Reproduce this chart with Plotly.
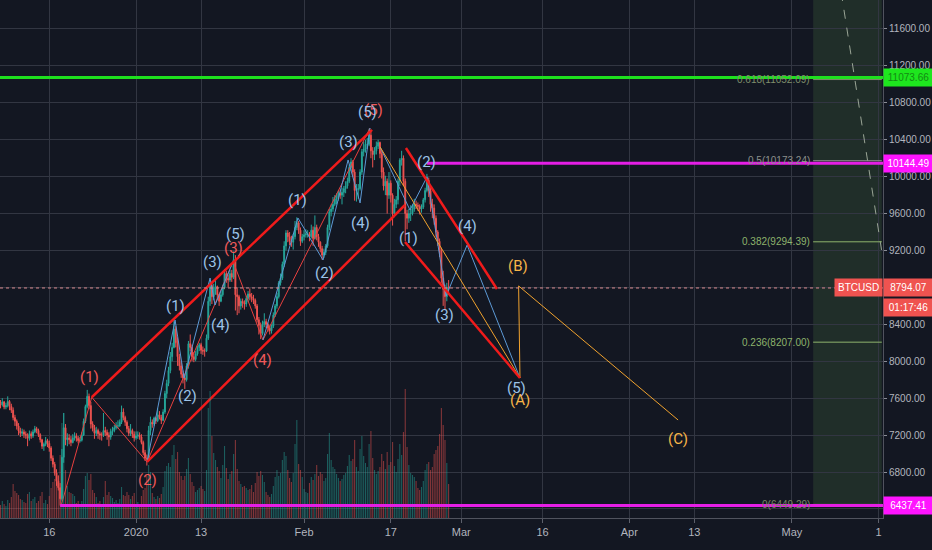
import plotly.graph_objects as go
from datetime import datetime, timedelta

# ---------------- data (8h candles, BTCUSD) ----------------
first_open = 7540
closes = [
    7530, 7560, 7505, 7520, 7565, 7510, 7470, 7390, 7350, 7300, 7245, 7220,   # Dec 7-10
    7235, 7210, 7200, 7165, 7215, 7190, 7235, 7270, 7250, 7205, 7150, 7080,   # Dec 11-14
    7100, 7140, 7110, 7060, 6950, 6885, 6790, 6700, 6630, 6510, 6960, 7280,   # Dec 15-18
    7150, 7170, 7150, 7120, 7170, 7190, 7165, 7140, 7145, 7200, 7350, 7510,   # Dec 19-22
    7620, 7520, 7320, 7280, 7220, 7250, 7215, 7200, 7200, 7250, 7230, 7200,   # Dec 23-26
    7180, 7240, 7250, 7280, 7300, 7300, 7340, 7450, 7390, 7340, 7270, 7220,   # Dec 27-30
    7250, 7210, 7170, 7190, 7200, 7180, 7120, 7010, 6950, 6940, 7250, 7340,   # Dec 31-Jan 3
    7320, 7385, 7355, 7420, 7390, 7360, 7450, 7650, 7760, 7900, 8050, 8150,   # Jan 4-7
    8350, 8200, 8050, 7950, 7860, 7820, 7800, 7950, 8190, 8150, 8050, 8020,   # Jan 8-11
    8080, 8150, 8180, 8120, 8110, 8110, 8250, 8650, 8820, 8700, 8800, 8810,   # Jan 12-15
    8720, 8650, 8720, 8800, 8950, 8900, 8880, 8950, 8910, 9100, 8720, 8700,   # Jan 16-19
    8600, 8650, 8630, 8620, 8680, 8730, 8700, 8680, 8660, 8600, 8450, 8390,   # Jan 20-23
    8300, 8400, 8430, 8400, 8360, 8330, 8380, 8500, 8600, 8700, 8850, 8900,   # Jan 24-27
    9050, 9250, 9390, 9350, 9300, 9290, 9350, 9450, 9500, 9420, 9300, 9350,   # Jan 28-31
    9370, 9380, 9380, 9350, 9420, 9330, 9450, 9350, 9290, 9220, 9150, 9180,   # Feb 1-4
    9250, 9450, 9620, 9650, 9700, 9760, 9780, 9820, 9800, 9830, 9870, 9900,   # Feb 5-8
    9950, 10100, 10160, 10050, 9850, 9860, 9870, 10050, 10270, 10300, 10350, 10350,  # Feb 9-12
    10450, 10280, 10240, 10280, 10330, 10370, 10250, 10050, 9900, 9950, 9800, 9930,  # Feb 13-16
    9800, 9600, 9700, 9750, 9950, 10180, 10200, 9950, 9600, 9550, 9600, 9600,  # Feb 17-20
    9650, 9700, 9690, 9680, 9650, 9670, 9750, 9850, 9960, 9850, 9700, 9660,   # Feb 21-24
    9550, 9400, 9300, 9200, 8900, 8780, 8700, 8800, 8794.07,                  # Feb 25-27
]
highs = [
    7580, 7600, 7570, 7550, 7620, 7580, 7540, 7500, 7420, 7370, 7330, 7280,
    7270, 7260, 7240, 7220, 7250, 7240, 7260, 7300, 7290, 7270, 7220, 7160,
    7120, 7180, 7160, 7140, 7080, 6980, 6910, 6830, 6760, 6680, 7050, 7440,
    7320, 7220, 7210, 7190, 7210, 7230, 7220, 7190, 7180, 7230, 7380, 7530,
    7690, 7650, 7560, 7350, 7310, 7290, 7270, 7240, 7230, 7440, 7290, 7260,
    7230, 7270, 7290, 7310, 7340, 7360, 7370, 7520, 7490, 7410, 7360, 7300,
    7320, 7270, 7240, 7240, 7240, 7230, 7210, 7140, 7040, 6990, 7300, 7400,
    7370, 7400, 7400, 7490, 7460, 7420, 7480, 7680, 7800, 7940, 8100, 8200,
    8450, 8380, 8260, 8080, 7990, 7900, 7860, 7980, 8220, 8290, 8180, 8100,
    8110, 8170, 8200, 8200, 8160, 8140, 8290, 8700, 8880, 8860, 8840, 8880,
    8820, 8730, 8760, 8830, 9000, 8980, 8940, 8990, 8990, 9190, 9150, 8800,
    8720, 8680, 8680, 8660, 8710, 8760, 8790, 8740, 8720, 8680, 8620, 8480,
    8420, 8440, 8520, 8460, 8420, 8390, 8400, 8530, 8620, 8740, 8870, 8950,
    9080, 9300, 9420, 9420, 9400, 9360, 9380, 9520, 9560, 9520, 9450, 9380,
    9420, 9430, 9420, 9400, 9480, 9460, 9580, 9480, 9380, 9300, 9250, 9220,
    9270, 9480, 9650, 9700, 9780, 9800, 9820, 9850, 9860, 9880, 9900, 9950,
    9990, 10130, 10200, 10180, 10080, 9920, 9920, 10080, 10300, 10380, 10400, 10420,
    10520, 10500, 10320, 10320, 10380, 10400, 10380, 10280, 10100, 10010, 9980, 10050,
    9960, 9820, 9760, 9790, 9980, 10200, 10280, 10230, 9980, 9640, 9650, 9690,
    9700, 9760, 9740, 9720, 9700, 9700, 9770, 9880, 10030, 9990, 9900, 9760,
    9700, 9580, 9420, 9330, 9230, 8980, 8830, 8850, 8880,
]
lows = [
    7490, 7510, 7480, 7480, 7500, 7470, 7440, 7360, 7300, 7260, 7200, 7180,
    7190, 7170, 7160, 7080, 7140, 7160, 7170, 7220, 7220, 7180, 7120, 7050,
    7030, 7080, 7070, 7020, 6920, 6850, 6760, 6650, 6600, 6437, 6490, 6900,
    7090, 7080, 7100, 7080, 7110, 7140, 7130, 7110, 7120, 7130, 7190, 7330,
    7490, 7480, 7270, 7240, 7160, 7190, 7160, 7150, 7140, 7180, 7190, 7150,
    7080, 7150, 7200, 7230, 7260, 7270, 7290, 7320, 7360, 7300, 7230, 7190,
    7190, 7170, 7130, 7150, 7160, 7150, 7100, 6980, 6920, 6870, 6920, 7200,
    7280, 7300, 7320, 7340, 7370, 7320, 7350, 7430, 7600, 7730, 7870, 8000,
    8140, 8150, 7950, 7900, 7820, 7760, 7700, 7780, 7920, 8110, 8000, 7990,
    8000, 8060, 8110, 8080, 8070, 8050, 8100, 8230, 8600, 8620, 8660, 8720,
    8680, 8600, 8640, 8700, 8780, 8850, 8800, 8860, 8860, 8890, 8550, 8500,
    8520, 8560, 8580, 8560, 8590, 8640, 8660, 8640, 8620, 8570, 8420, 8290,
    8240, 8280, 8370, 8360, 8320, 8290, 8300, 8360, 8480, 8570, 8680, 8820,
    8880, 9020, 9200, 9290, 9260, 9240, 9210, 9320, 9420, 9380, 9250, 9280,
    9310, 9340, 9340, 9300, 9330, 9250, 9320, 9310, 9240, 9180, 9100, 9120,
    9150, 9230, 9420, 9570, 9620, 9680, 9700, 9740, 9760, 9700, 9780, 9820,
    9870, 9930, 10060, 10000, 9740, 9730, 9760, 9850, 10020, 10220, 10260, 10300,
    10330, 10200, 10100, 10180, 10240, 10300, 10200, 9980, 9850, 9800, 9600, 9760,
    9720, 9470, 9560, 9660, 9700, 9900, 10120, 9900, 9300, 9430, 9500, 9520,
    9580, 9620, 9650, 9630, 9590, 9610, 9650, 9720, 9830, 9780, 9620, 9550,
    9480, 9350, 9250, 9130, 8850, 8600, 8560, 8650, 8740,
]
volumes = [
    2600, 3400, 2800, 2400, 3600, 3000, 4200, 6800, 5400, 5000, 4600, 3800,
    3600, 3200, 3000, 4800, 5200, 3400, 3800, 4200, 3000, 3400, 4400, 5200,
    3000, 3600, 2800, 4400, 6000, 7200, 7800, 9200, 8600, 12600, 19000, 21000,
    9600, 6400, 5200, 5000, 4800, 4400, 3000, 3400, 2600, 3400, 5800, 8400,
    9000, 7600, 8800, 5600, 5000, 4200, 3000, 3400, 2800, 4200, 7400, 4600,
    5200, 4400, 4000, 3200, 3600, 3000, 3800, 6200, 4600, 4400, 5200, 4600,
    3800, 4400, 5000, 2600, 3200, 2800, 4400, 5600, 6000, 8400, 10600, 9200,
    5000, 4200, 3800, 4400, 4000, 4800, 6200, 9400, 10400, 11000, 10200, 12600,
    14600, 11800, 13200, 9200, 8400, 7600, 8400, 9800, 12000, 8800, 7200, 6400,
    5200, 5600, 6000, 6400, 5800, 5400, 9600, 22000, 25400, 16400, 13000, 11600,
    10200, 9400, 8000, 10600, 14400, 10000, 7800, 8800, 9400, 12800, 15600, 9800,
    7400, 6800, 6200, 6400, 6000, 5600, 5800, 6600, 5200, 7000, 9200, 8400,
    9400, 8600, 7200, 5200, 4600, 4200, 4800, 6400, 8200, 9600, 8400, 9000,
    11600, 13200, 12400, 9600, 8000, 7200, 9000, 14800, 19600, 10800, 9600, 8200,
    5800, 5200, 5000, 7000, 8200, 7600, 8800, 10600, 8400, 9200, 8800, 7400,
    8000, 12800, 17000, 11600, 10200, 9800, 8800, 8000, 7400, 7800, 8600, 9000,
    10400, 12600, 11400, 11800, 15600, 10200, 9400, 13800, 16400, 12400, 11000, 10200,
    14800, 17400, 12000, 9600, 8800, 9400, 10200, 12800, 11400, 9800, 13200, 10600,
    11200, 15200, 10400, 9200, 11800, 14800, 12600, 17200, 25800, 14200, 10600, 9000,
    8600, 8200, 7400, 6000, 5600, 6200, 7400, 9600, 10800, 11200, 9600, 10200,
    12800, 13600, 14400, 16800, 22000, 18600, 15600, 11000, 6800,
]
candle_start = datetime(2019, 12, 7)
candle_hours = 8

# Elliott-wave drawings (date, price)
red_wave = [("2019-12-18 06:00", 6450), ("2019-12-23 20:00", 7610), ("2020-01-03 01:00", 6909),
            ("2020-01-18 22:00", 9080), ("2020-01-24 10:00", 8231), ("2020-02-13 04:00", 10527)]
blue_wave3 = [("2020-01-03 01:00", 6909), ("2020-01-08 05:00", 8447), ("2020-01-09 21:00", 7819),
              ("2020-01-14 16:00", 8902), ("2020-01-15 14:00", 8610), ("2020-01-18 22:00", 9080)]
blue_wave5 = [("2020-01-24 10:00", 8231), ("2020-01-30 21:00", 9552), ("2020-02-04 12:00", 9097),
              ("2020-02-09 03:00", 10181), ("2020-02-11 08:00", 9715), ("2020-02-13 04:00", 10527)]
blue_corr = [("2020-02-15 00:30", 10322), ("2020-02-20 13:00", 9639), ("2020-02-23 16:30", 9997),
             ("2020-02-27 05:00", 8707), ("2020-03-02 02:00", 9260), ("2020-03-11 20:00", 7819)]
orange_abc = [("2020-02-15 00:30", 10322), ("2020-03-11 20:00", 7819), ("2020-03-11 14:00", 8816),
              ("2020-04-10 00:00", 7364)]
channels = [
    [("2019-12-23 20:00", 7610), ("2020-02-13 13:00", 10506)],
    [("2020-01-03 01:00", 6909), ("2020-02-19 15:00", 9693)],
    [("2020-02-19 19:00", 10311), ("2020-03-07 14:00", 8783)],
    [("2020-02-19 15:00", 9292), ("2020-03-11 20:00", 7819)],
]
red_labels = [("(1)", "2019-12-23 08:00", 7830), ("(2)", "2020-01-03 01:00", 6714),
              ("(3)", "2020-01-18 22:00", 9227), ("(4)", "2020-01-24 06:00", 8014),
              ("(5)", "2020-02-13 17:30", 10722)]
blue_labels = [("(1)", "2020-01-08 09:00", 8599), ("(2)", "2020-01-10 10:00", 7624),
               ("(3)", "2020-01-15 00:30", 9076), ("(4)", "2020-01-16 12:00", 8393),
               ("(5)", "2020-01-19 06:30", 9379),
               ("(1)", "2020-01-30 17:00", 9747), ("(2)", "2020-02-04 16:30", 8957),
               ("(3)", "2020-02-09 03:00", 10376), ("(4)", "2020-02-11 08:00", 9498),
               ("(5)", "2020-02-12 19:00", 10701),
               ("(1)", "2020-02-20 04:30", 9336), ("(2)", "2020-02-23 12:00", 10159),
               ("(3)", "2020-02-26 20:00", 8501), ("(4)", "2020-03-02 02:00", 9466),
               ("(5)", "2020-03-11 02:40", 7711)]
orange_labels = [("(A)", "2020-03-11 20:00", 7581), ("(B)", "2020-03-11 11:30", 9032),
                 ("(C)", "2020-04-10 00:00", 7158)]

green_level = 11073.66
magenta_high = 10144.49
magenta_high_start = "2020-02-23 16:30"
magenta_low = 6437.41
magenta_low_start = "2019-12-18 00:00"
last_price = 8794.07
countdown = "01:17:46"

fib_ratios = ["0.618", "0.5", "0.382", "0.236", "0"]
fib_prices = [11052.09, 10173.24, 9294.39, 8207.00, 6449.29]
fib_colors = ["#7f8f6c", "#8c8f8c", "#8db36c", "#8db36c", "#7a8568"]
fib_start = "2020-05-04 22:00"
fib_end = "2020-05-17 14:00"
fib_trend = [("2020-05-10 02:00", 12000), ("2020-05-17 15:00", 9173)]

x_tickvals = ["2019-12-16", "2020-01-01", "2020-01-13", "2020-02-01", "2020-02-17", "2020-03-01",
              "2020-03-16", "2020-04-01", "2020-04-13", "2020-05-01", "2020-05-17"]
x_ticktext = ["16", "2020", "13", "Feb", "17", "Mar", "16", "Apr", "13", "May", "1"]
x_range = ["2019-12-06 21:50", "2020-05-17 19:15"]
y_range = [6302, 11914]

# ---------------- build ----------------
BG = "#131722"
GRID = "#323642"
TXT = "#b2b5be"
AXFONT = "Liberation Sans, Arial, sans-serif"
AXSIZE = 10
UP, DOWN = "#26a69a", "#ef5350"

times = [candle_start + timedelta(hours=candle_hours * i) for i in range(len(closes))]
opens = [first_open] + closes[:-1]
highs_c = [max(h, o, c) for h, o, c in zip(highs, opens, closes)]
lows_c = [min(l, o, c) for l, o, c in zip(lows, opens, closes)]
vol_colors = ["rgba(38,166,154,0.5)" if c >= o else "rgba(239,83,80,0.5)" for o, c in zip(opens, closes)]

fig = go.Figure()
fig.add_trace(go.Bar(x=times, y=volumes, yaxis="y2", marker=dict(color=vol_colors, line_width=0),
                     width=candle_hours * 3600 * 1000 * 0.6, hoverinfo="skip"))
fig.add_trace(go.Candlestick(x=times, open=opens, high=highs_c, low=lows_c, close=closes,
                             increasing=dict(line=dict(color=UP, width=1), fillcolor=UP),
                             decreasing=dict(line=dict(color=DOWN, width=1), fillcolor=DOWN),
                             whiskerwidth=0, hoverinfo="skip"))


def add_path(pts, color, width):
    fig.add_trace(go.Scatter(x=[p[0] for p in pts], y=[p[1] for p in pts], mode="lines",
                             line=dict(color=color, width=width), hoverinfo="skip"))


add_path(red_wave, "#e8403f", 1)
add_path(blue_wave3, "#5d9ad6", 1)
add_path(blue_wave5, "#5d9ad6", 1)
add_path(blue_corr, "#5d9ad6", 1)
add_path(orange_abc, "#f0a22e", 1)
for ch in channels:
    add_path(ch, "#f01b1b", 2.5)
fig.add_trace(go.Scatter(x=[p[0] for p in fib_trend], y=[p[1] for p in fib_trend], mode="lines",
                         line=dict(color="#9aa596", width=1, dash="dash"), hoverinfo="skip"))

shapes = []
shapes.append(dict(type="rect", xref="x", yref="y", x0=fib_start, x1=fib_end, y0=fib_prices[-1], y1=y_range[1],
                   fillcolor="rgba(100,160,80,0.17)", line_width=0, layer="below"))
for p, col in zip(fib_prices, fib_colors):
    shapes.append(dict(type="line", xref="x", yref="y", x0=fib_start, x1=fib_end, y0=p, y1=p,
                       line=dict(color=col, width=1)))
shapes.append(dict(type="line", xref="paper", yref="y", x0=0, x1=1, y0=green_level, y1=green_level,
                   line=dict(color="#1ee01e", width=3)))
shapes.append(dict(type="line", xref="x", yref="y", x0=magenta_high_start, x1=x_range[1], y0=magenta_high,
                   y1=magenta_high, line=dict(color="#e51ee5", width=3)))
shapes.append(dict(type="line", xref="x", yref="y", x0=magenta_low_start, x1=x_range[1], y0=magenta_low,
                   y1=magenta_low, line=dict(color="#e51ee5", width=3)))
shapes.append(dict(type="line", xref="paper", yref="y", x0=0, x1=1, y0=last_price, y1=last_price,
                   line=dict(color="#d98a8f", width=1, dash="dot")))

ann = []
LBLFONT = "Roboto, Noto Sans, sans-serif"
for t, x, y in red_labels:
    ann.append(dict(x=x, y=y, text=t, showarrow=False, font=dict(family=LBLFONT, size=15, color="#f05a5a")))
for t, x, y in blue_labels:
    ann.append(dict(x=x, y=y, text=t, showarrow=False, font=dict(family=LBLFONT, size=15, color="#9cc3e8")))
for t, x, y in orange_labels:
    ann.append(dict(x=x, y=y, text=t, showarrow=False, font=dict(family=LBLFONT, size=15, color="#f7b548")))
for r, p, col in zip(fib_ratios, fib_prices, fib_colors):
    ann.append(dict(x=fib_start, y=p, text=f"{r}({p:.2f})", showarrow=False, xanchor="right", xshift=-1,
                    font=dict(family=AXFONT, size=AXSIZE, color=col)))


def price_box(y, text, bg, fg, yshift=0):
    ann.append(dict(xref="paper", x=1, y=y, yref="y", text=text, showarrow=False, xanchor="left",
                    yshift=yshift, bgcolor=bg, borderpad=3, width=43, align="center",
                    font=dict(family=AXFONT, size=AXSIZE, color=fg)))


price_box(green_level, f"{green_level:.2f}", "#1ee61e", "#138a13")
price_box(magenta_high, f"{magenta_high:.2f}", "#ff14ff", "#ffffff")
price_box(last_price, f"{last_price:.2f}", "#ef5350", "#ffffff")
price_box(last_price, countdown, "#ef5350", "#ffffff", yshift=-20)
price_box(magenta_low, f"{magenta_low:.2f}", "#ff14ff", "#ffffff")
ann.append(dict(xref="paper", x=1, y=last_price, yref="y", text="BTCUSD", showarrow=False, xanchor="right",
                bgcolor="#ef5350", borderpad=3, font=dict(family=AXFONT, size=AXSIZE, color="#ffffff")))

fig.update_layout(
    width=932, height=550, margin=dict(l=0, r=49, t=0, b=32, autoexpand=False),
    paper_bgcolor=BG, plot_bgcolor=BG, showlegend=False, shapes=shapes, annotations=ann,
    xaxis=dict(type="date", range=x_range, tickvals=x_tickvals, ticktext=x_ticktext, automargin=False,
               showgrid=True, gridcolor=GRID, gridwidth=1, ticks="outside", ticklen=4, tickcolor="#5d606b",
               tickfont=dict(family=AXFONT, size=11, color=TXT), showline=True, linecolor="#50535e",
               zeroline=False, rangeslider=dict(visible=False), fixedrange=True),
    yaxis=dict(side="right", range=y_range, dtick=400, tick0=0, tickformat=".2f", automargin=False,
               showgrid=True, gridcolor=GRID, gridwidth=1, ticks="outside", ticklen=3, tickcolor="#8a8d96",
               tickfont=dict(family=AXFONT, size=AXSIZE, color=TXT), showline=True, linecolor="#50535e",
               zeroline=False, fixedrange=True),
    yaxis2=dict(overlaying="y", range=[0, 103600], visible=False, fixedrange=True),
)

fig.write_html("out.html", config={"displayModeBar": False},
               post_script="document.body.style.margin='0';document.body.style.overflow='hidden';")
